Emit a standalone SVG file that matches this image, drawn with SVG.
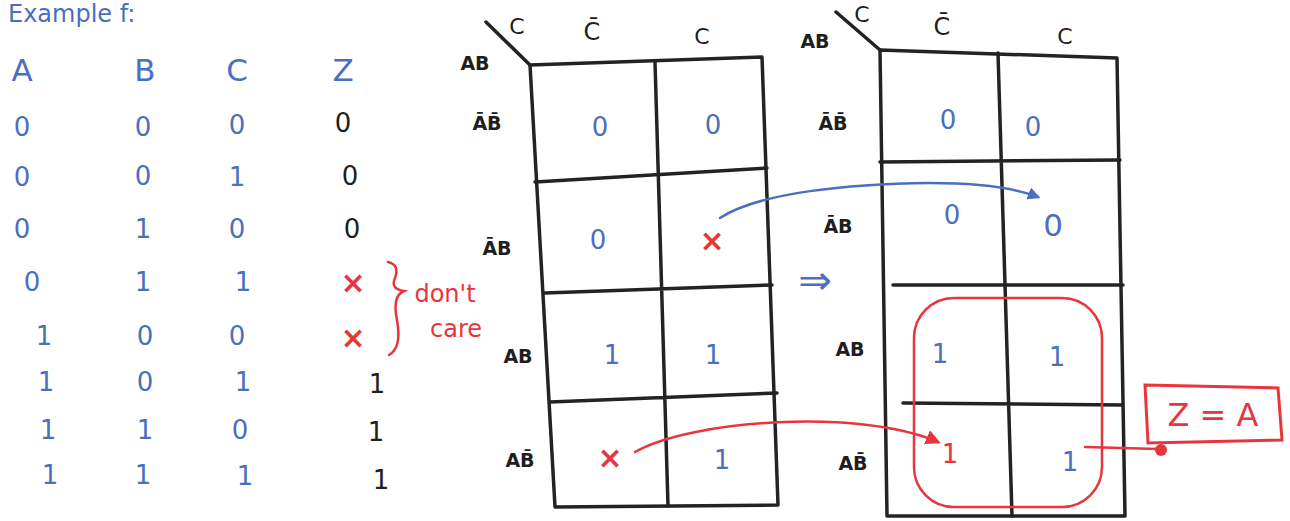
<svg xmlns="http://www.w3.org/2000/svg" width="1290" height="521" viewBox="0 0 1290 521">
<defs>
<style>
text{font-family:"DejaVu Sans","Liberation Sans",sans-serif;text-anchor:middle}
.b{fill:#4a6fc0}
.r{fill:#e8353c}
.k{fill:#1e1e1e}
.hdr{font-size:31px}
.dig{font-size:26px}
.x{font-size:30px;font-weight:bold}
.lbl{font-size:19px;font-weight:bold;fill:#1e1e1e}
.grid{fill:none;stroke:#232323;stroke-width:3.5;stroke-linejoin:round;stroke-linecap:round}
.con{fill:none;stroke-width:2.5;stroke-linecap:round}
</style>
<marker id="ab" viewBox="0 0 10 10" refX="8" refY="5" markerWidth="5" markerHeight="5" orient="auto"><path d="M0 0 L10 5 L0 10 Z" fill="#4a6fc0"/></marker>
<marker id="ar" viewBox="0 0 10 10" refX="8" refY="5" markerWidth="6" markerHeight="6" orient="auto"><path d="M0 0 L10 5 L0 10 Z" fill="#e8353c"/></marker>
</defs>
<rect width="1290" height="521" fill="#ffffff"/>
<g id="title"><text x="8" y="22" class="b" style="font-size:24px;text-anchor:start">Example f:</text></g>
<g id="truth-table">
<text x="22" y="81" class="b hdr">A</text><text x="145" y="81" class="b hdr">B</text><text x="237" y="81" class="b hdr">C</text><text x="343" y="81" class="b hdr">Z</text>
<text x="22" y="136" class="b dig">0</text><text x="143" y="136" class="b dig">0</text><text x="237" y="134" class="b dig">0</text><text x="343" y="132" class="k dig">0</text>
<text x="22" y="186" class="b dig">0</text><text x="143" y="185" class="b dig">0</text><text x="237" y="186" class="b dig">1</text><text x="350" y="185" class="k dig">0</text>
<text x="22" y="238" class="b dig">0</text><text x="143" y="238" class="b dig">1</text><text x="237" y="238" class="b dig">0</text><text x="352" y="238" class="k dig">0</text>
<text x="32" y="291" class="b dig">0</text><text x="143" y="291" class="b dig">1</text><text x="243" y="291" class="b dig">1</text><text x="353" y="293" class="r x">×</text>
<text x="44" y="345" class="b dig">1</text><text x="145" y="345" class="b dig">0</text><text x="237" y="345" class="b dig">0</text><text x="353" y="348" class="r x">×</text>
<text x="46" y="391" class="b dig">1</text><text x="145" y="391" class="b dig">0</text><text x="243" y="391" class="b dig">1</text><text x="377" y="393" class="k dig">1</text>
<text x="48" y="439" class="b dig">1</text><text x="145" y="439" class="b dig">1</text><text x="240" y="439" class="b dig">0</text><text x="376" y="441" class="k dig">1</text>
<text x="50" y="484" class="b dig">1</text><text x="143" y="484" class="b dig">1</text><text x="245" y="485" class="b dig">1</text><text x="381" y="489" class="k dig">1</text>
<path d="M388 262 Q400 265 395 278 Q390 289 404 291 Q392 296 397 320 Q402 348 389 355" fill="none" stroke="#e8353c" stroke-width="2.5" stroke-linecap="round"/>
<text x="445" y="302" class="r" style="font-size:24px">don't</text>
<text x="456" y="337" class="r" style="font-size:24px">care</text>
</g>
<g id="kmap-1">
<path class="grid" d="M530 65 L762 57 L778 505 L555 507 Z"/>
<path class="grid" d="M655 62 L668 506 M535 182 L767 168 M545 293 L772 285 M550 402 L777 393 M486 22 L530 65"/>
<text x="475" y="70" class="lbl">AB</text>
<text x="517" y="34" class="k" style="font-size:22px">C</text>
<text x="592" y="40" class="k" style="font-size:24px">C̄</text>
<text x="702" y="44" class="k" style="font-size:22px">C</text>
<text x="487" y="130" class="lbl">ĀB̄</text>
<text x="497" y="255" class="lbl">ĀB</text>
<text x="518" y="363" class="lbl">AB</text>
<text x="520" y="467" class="lbl">AB̄</text>
<text x="600" y="136" class="b dig">0</text><text x="713" y="134" class="b dig">0</text>
<text x="598" y="249" class="b dig">0</text><text x="712" y="251" class="r x">×</text>
<text x="612" y="364" class="b dig">1</text><text x="713" y="364" class="b dig">1</text>
<text x="610" y="468" class="r x">×</text><text x="722" y="469" class="b dig">1</text>
</g>
<g id="implies"><text x="815" y="294" class="b" style="font-size:40px">⇒</text></g>
<g id="kmap-2">
<path class="grid" d="M880 50 L1117 58 L1125 516 L887 516 Z"/>
<path class="grid" d="M998 53 L1012 516 M880 162 L1120 160 M893 285 L1123 285 M903 403 L1122 405 M836 12 L880 50"/>
<text x="815" y="48" class="lbl">AB</text>
<text x="862" y="22" class="k" style="font-size:22px">C</text>
<text x="942" y="35" class="k" style="font-size:24px">C̄</text>
<text x="1065" y="44" class="k" style="font-size:22px">C</text>
<text x="833" y="130" class="lbl">ĀB̄</text>
<text x="838" y="233" class="lbl">ĀB</text>
<text x="850" y="356" class="lbl">AB</text>
<text x="853" y="470" class="lbl">AB̄</text>
<text x="948" y="129" class="b dig">0</text><text x="1033" y="136" class="b dig">0</text>
<text x="952" y="224" class="b dig">0</text><text x="1053" y="236" class="b" style="font-size:31px">0</text>
<text x="940" y="363" class="b dig">1</text><text x="1057" y="366" class="b dig">1</text>
<text x="950" y="463" class="r dig">1</text><text x="1070" y="471" class="b dig">1</text>
<rect x="914" y="298" width="188" height="209" rx="40" ry="40" fill="none" stroke="#e8353c" stroke-width="2.5"/>
</g>
<g id="result">
<path d="M1145 385 L1278 388 L1282 440 L1148 443 Z" fill="#ffffff" stroke="#e8353c" stroke-width="3"/>
<text x="1213" y="426" class="r" style="font-size:32px">Z = A</text>
</g>
<g id="connectors">
<path class="con" stroke="#4a6fc0" d="M720 218 C760 192 850 184 930 183 C990 183 1020 190 1038 197" marker-end="url(#ab)"/>
<path class="con" stroke="#e8353c" d="M635 452 C690 420 860 408 938 442" marker-end="url(#ar)"/>
<path class="con" stroke="#e8353c" d="M1085 447 L1158 449"/>
<circle cx="1161" cy="450" r="6" fill="#e8353c"/>
</g>
</svg>
